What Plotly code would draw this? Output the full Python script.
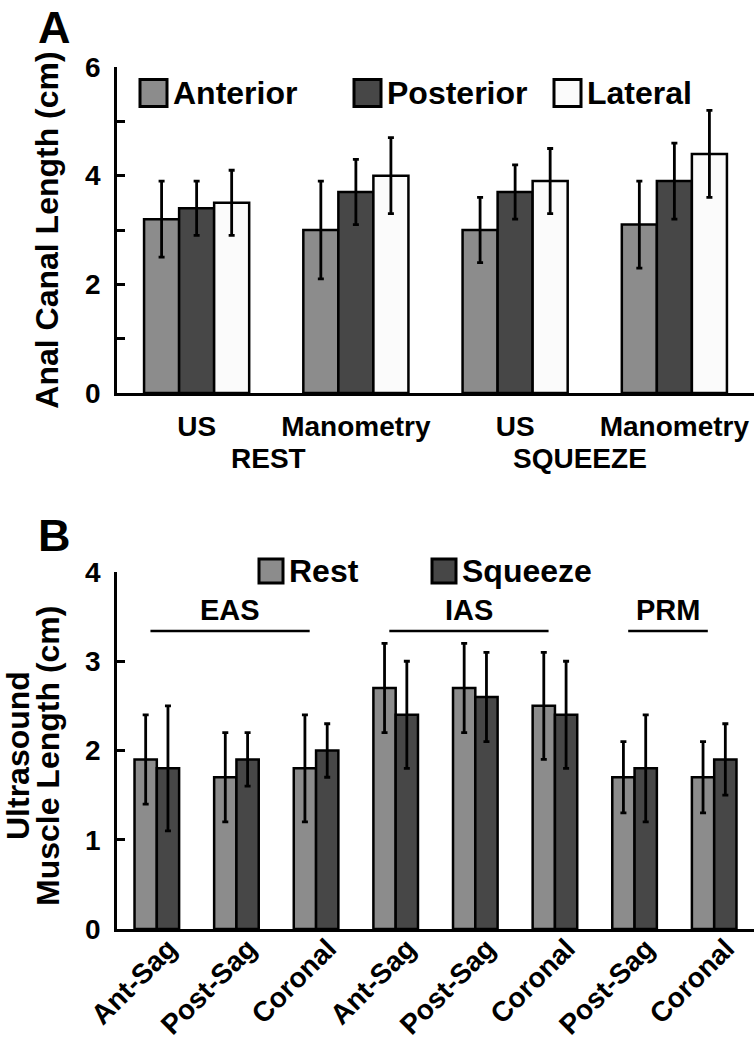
import plotly.graph_objects as go

# ---------------- Panel A data ----------------
a_methods = ["US", "Manometry", "US", "Manometry"]
a_conditions = ["REST", "SQUEEZE"]
a_series = ["Anterior", "Posterior", "Lateral"]
a_anterior = [3.2, 3.0, 3.0, 3.1]
a_anterior_err = [0.7, 0.9, 0.6, 0.8]
a_posterior = [3.4, 3.7, 3.7, 3.9]
a_posterior_err = [0.5, 0.6, 0.5, 0.7]
a_lateral = [3.5, 4.0, 3.9, 4.4]
a_lateral_err = [0.6, 0.7, 0.6, 0.8]

# ---------------- Panel B data ----------------
b_planes = ["Ant-Sag", "Post-Sag", "Coronal", "Ant-Sag", "Post-Sag",
            "Coronal", "Post-Sag", "Coronal"]
b_muscles = ["EAS", "IAS", "PRM"]
b_muscle_first = [0, 3, 6]
b_muscle_last = [2, 5, 7]
b_series = ["Rest", "Squeeze"]
b_rest = [1.9, 1.7, 1.8, 2.7, 2.7, 2.5, 1.7, 1.7]
b_rest_err = [0.5, 0.5, 0.6, 0.5, 0.5, 0.6, 0.4, 0.4]
b_squeeze = [1.8, 1.9, 2.0, 2.4, 2.6, 2.4, 1.8, 1.9]
b_squeeze_err = [0.7, 0.3, 0.3, 0.6, 0.5, 0.6, 0.6, 0.4]
b_title_lines = ["Ultrasound", "Muscle Length (cm)"]

# ---------------- styling ----------------
W, H = 754, 1050
FONT = "Liberation Sans, Arial, sans-serif"
COL_A = ["#8c8c8c", "#474747", "#fbfbfb"]
COL_B = ["#8c8c8c", "#474747"]
EDGE = "black"


def px(x):
    """page pixel x -> paper coordinate"""
    return x / W


def py(y):
    """page pixel y -> paper coordinate"""
    return 1 - y / H


fig = go.Figure()

# Panel A bars
xa = list(range(len(a_methods)))
a_vals = [a_anterior, a_posterior, a_lateral]
a_errs = [a_anterior_err, a_posterior_err, a_lateral_err]
bw_a = 0.22
for k, (name, vals, errs, col) in enumerate(zip(a_series, a_vals, a_errs, COL_A)):
    fig.add_trace(go.Bar(
        x=xa, y=vals, name=name, width=bw_a, offset=-1.5 * bw_a + k * bw_a,
        marker=dict(color=col, line=dict(color=EDGE, width=2.5)),
        error_y=dict(type="data", array=errs, color=EDGE, thickness=2.8, width=3),
        xaxis="x", yaxis="y", showlegend=False))

# Panel B bars
xb = list(range(len(b_planes)))
b_vals = [b_rest, b_squeeze]
b_errs = [b_rest_err, b_squeeze_err]
bw_b = 0.28
for k, (name, vals, errs, col) in enumerate(zip(b_series, b_vals, b_errs, COL_B)):
    fig.add_trace(go.Bar(
        x=xb, y=vals, name=name, width=bw_b, offset=-bw_b + k * bw_b,
        marker=dict(color=col, line=dict(color=EDGE, width=2.5)),
        error_y=dict(type="data", array=errs, color=EDGE, thickness=2.8, width=3),
        xaxis="x2", yaxis="y2", showlegend=False))

axis_common = dict(showline=True, linecolor="black", linewidth=2.8,
                   showgrid=False, zeroline=False, automargin=False)
tickfont = dict(family=FONT, size=28, color="black", weight="bold")
titlefont = dict(family=FONT, size=32, color="black", weight="bold")

fig.update_layout(
    width=W, height=H, autosize=False,
    margin=dict(l=0, r=0, t=0, b=0),
    paper_bgcolor="white", plot_bgcolor="white",
    font=dict(family=FONT, color="black", weight="bold"),
    barmode="overlay",
    xaxis=dict(domain=[px(117), 1], anchor="y", range=[-0.5, len(a_methods) - 0.5],
               tickmode="array", tickvals=xa, ticktext=a_methods, ticks="",
               tickfont=tickfont, ticklabelstandoff=6, **axis_common),
    yaxis=dict(domain=[py(393), py(67)], anchor="x", range=[0, 6],
               tickmode="linear", tick0=0, dtick=2, ticks="inside", ticklen=8,
               tickwidth=2.5, tickcolor="black",
               minor=dict(dtick=1, ticks="inside", ticklen=8, tickwidth=2.5,
                          tickcolor="black"),
               tickfont=tickfont, ticklabelstandoff=8,
               title=dict(text="Anal Canal Length (cm)", font=titlefont, standoff=17),
               **axis_common),
    xaxis2=dict(domain=[px(117), 1], anchor="y2", range=[-0.5, len(b_planes) - 0.5],
                tickmode="array", tickvals=xb, ticktext=b_planes, ticks="",
                tickangle=-45, tickfont=tickfont, ticklabelstandoff=-11,
                ticklabelshift=12, **axis_common),
    yaxis2=dict(domain=[py(929), py(572)], anchor="x2", range=[0, 4],
                tickmode="linear", tick0=0, dtick=1, ticks="inside", ticklen=8,
                tickwidth=2.5, tickcolor="black",
                tickfont=tickfont, ticklabelstandoff=8,
                **axis_common),
)

annotations = []
shapes = []

# Panel letters
for letter, ytop in [("A", 0), ("B", 508)]:
    annotations.append(dict(text=letter, x=px(54), y=py(ytop), xref="paper", yref="paper",
                            showarrow=False, xanchor="center", yanchor="top",
                            font=dict(family=FONT, size=45, color="black", weight="bold")))

# Panel B two-line y-axis title
for line, xc in zip(b_title_lines, [18, 48]):
    annotations.append(dict(text=line, x=px(xc), y=py(756), xref="paper", yref="paper",
                            showarrow=False, textangle=-90, xanchor="center",
                            yanchor="middle", font=titlefont))

# Panel A condition labels (second tick line)
for cond, xc in zip(a_conditions, [0.45, 2.41]):
    annotations.append(dict(text=cond, x=xc, y=py(458), xref="x", yref="paper",
                            showarrow=False, xanchor="center", yanchor="middle",
                            font=dict(family=FONT, size=28, color="black", weight="bold")))


# Manual legends (large swatches)
def legend_item(x0, yc, size, color, label):
    shapes.append(dict(type="rect", xref="paper", yref="paper",
                       x0=px(x0), x1=px(x0 + size), y0=py(yc + size / 2), y1=py(yc - size / 2),
                       fillcolor=color, line=dict(color="black", width=3)))
    annotations.append(dict(text=label, x=px(x0 + size + 4), y=py(yc), xref="paper",
                            yref="paper", showarrow=False, xanchor="left", yanchor="middle",
                            font=dict(family=FONT, size=32, color="black", weight="bold")))


for name, col, x0 in zip(a_series, COL_A, [140, 354, 554]):
    legend_item(x0, 93, 27, col, name)
for name, col, x0 in zip(b_series, COL_B, [259, 432]):
    legend_item(x0, 571, 24, col, name)

# Panel B muscle group labels with lines
for name, i0, i1 in zip(b_muscles, b_muscle_first, b_muscle_last):
    shapes.append(dict(type="line", xref="x2", yref="y2", x0=i0 - 0.08, x1=i1 - 0.08,
                       y0=3.34, y1=3.34, line=dict(color="black", width=2.5)))
    annotations.append(dict(text=name, x=(i0 + i1) / 2 - 0.08, y=3.57, xref="x2", yref="y2",
                            showarrow=False, xanchor="center", yanchor="middle",
                            font=dict(family=FONT, size=29, color="black", weight="bold")))

fig.update_layout(annotations=annotations, shapes=shapes)
fig.write_html("out.html",
               config={"displayModeBar": False},
               post_script="document.body.style.margin='0px';"
                           "document.body.style.overflow='hidden';")
